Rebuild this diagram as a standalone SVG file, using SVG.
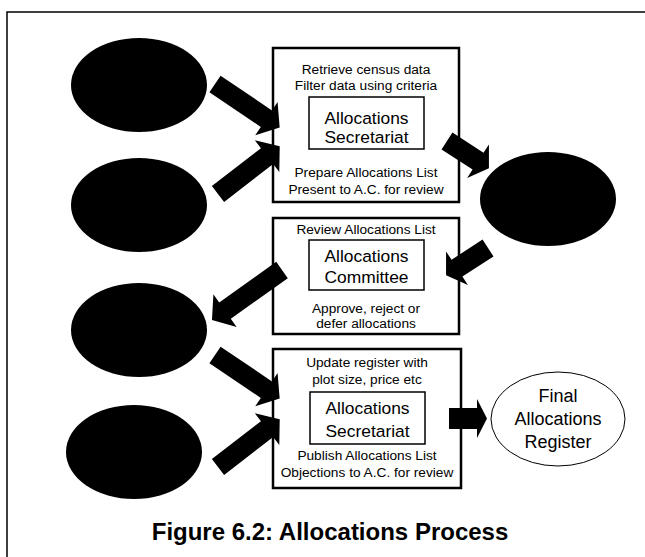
<svg xmlns="http://www.w3.org/2000/svg" width="645" height="557" viewBox="0 0 645 557">
<style>
.t{font-family:"Liberation Sans",Arial,sans-serif;font-size:13.7px;fill:#000;text-anchor:middle}
.b{font-family:"Liberation Sans",Arial,sans-serif;font-size:17.4px;fill:#000;text-anchor:middle}
.f{font-family:"Liberation Sans",Arial,sans-serif;font-size:18px;fill:#000;text-anchor:middle}
.box{fill:#fff;stroke:#000;stroke-width:2.5}
.inner{fill:#fff;stroke:#000;stroke-width:1.5}
.blob{fill:#000}
.arr{fill:#000}
</style>
<defs>
<polygon id="a78" points="0,-10 62,-10 62,-20 78,0 62,20 62,10 0,10"/>
<polygon id="a86" points="0,-10 70,-10 70,-20 86,0 70,20 70,10 0,10"/>
<polygon id="a50" points="0,-10 37,-10 37,-20 50,0 37,20 37,10 0,10"/>
</defs>
<rect x="0" y="0" width="645" height="557" fill="#fff"/>
<g id="frame" fill="none" stroke="#000" stroke-width="1.5">
<path d="M7,557 V12 H645"/>
</g>
<g id="src1"><ellipse class="blob" cx="139" cy="85" rx="68" ry="47"/></g>
<g id="src2"><ellipse class="blob" cx="139" cy="205" rx="68" ry="47"/></g>
<g id="listOut"><ellipse class="blob" cx="548" cy="199" rx="68" ry="47"/></g>
<g id="decision"><ellipse class="blob" cx="139" cy="330" rx="68" ry="47"/></g>
<g id="src4"><ellipse class="blob" cx="134" cy="452" rx="68" ry="47"/></g>
<g id="secretariat1">
<rect class="box" x="273" y="48" width="186" height="154"/>
<text class="t" x="366" y="74">Retrieve census data</text>
<text class="t" x="366" y="90">Filter data using criteria</text>
<rect class="inner" x="309" y="97" width="115" height="52"/>
<text class="b" x="366.5" y="124">Allocations</text>
<text class="b" x="366.5" y="143">Secretariat</text>
<text class="t" x="366" y="177">Prepare Allocations List</text>
<text class="t" x="366" y="194">Present to A.C. for review</text>
</g>
<g id="committee">
<rect class="box" x="273" y="218" width="186" height="116"/>
<text class="t" x="366" y="234">Review Allocations List</text>
<rect class="inner" x="309" y="240" width="115" height="50"/>
<text class="b" x="366.5" y="262">Allocations</text>
<text class="b" x="366.5" y="283">Committee</text>
<text class="t" x="366" y="313">Approve, reject or</text>
<text class="t" x="366" y="328">defer allocations</text>
</g>
<g id="secretariat2">
<rect class="box" x="273" y="349" width="188" height="139"/>
<text class="t" x="367" y="367">Update register with</text>
<text class="t" x="367" y="384">plot size, price etc</text>
<rect class="inner" x="310" y="392" width="115" height="52"/>
<text class="b" x="367.5" y="414">Allocations</text>
<text class="b" x="367.5" y="437">Secretariat</text>
<text class="t" x="367" y="460">Publish Allocations List</text>
<text class="t" x="367" y="477">Objections to A.C. for review</text>
</g>
<g id="register">
<ellipse cx="558" cy="419" rx="67" ry="47" fill="#fff" stroke="#000" stroke-width="1"/>
<text class="f" x="558" y="402">Final</text>
<text class="f" x="558" y="425">Allocations</text>
<text class="f" x="558" y="448">Register</text>
</g>
<g id="connectors" class="arr">
<use href="#a78" transform="translate(215,84) rotate(34)"/>
<use href="#a78" transform="translate(218,194) rotate(-37.7)"/>
<use href="#a50" transform="translate(447,141) rotate(33)"/>
<use href="#a50" transform="translate(488,248) rotate(147)"/>
<use href="#a86" transform="translate(282,270) rotate(144.5)"/>
<use href="#a78" transform="translate(215,355) rotate(34)"/>
<use href="#a78" transform="translate(218,467) rotate(-37.7)"/>
<polygon points="449,408 477,408 477,399 487,418.5 477,438 477,429 449,429"/>
</g>
<text x="330" y="540" font-family="Liberation Sans, Arial, sans-serif" font-size="24" font-weight="bold" text-anchor="middle">Figure 6.2: Allocations Process</text>
</svg>
